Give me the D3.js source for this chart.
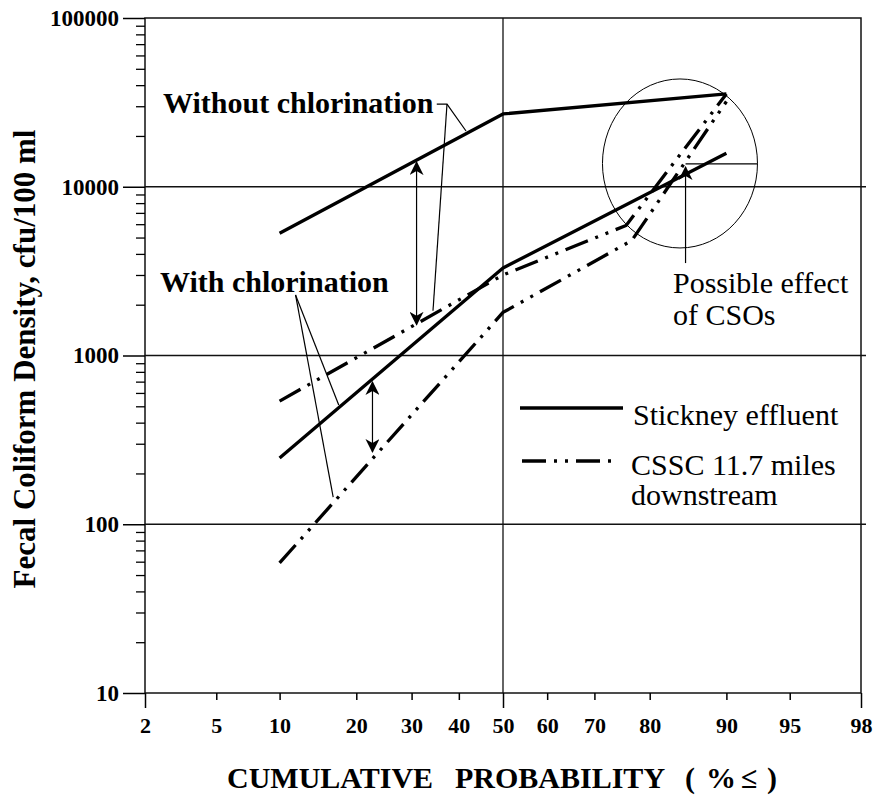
<!DOCTYPE html>
<html>
<head>
<meta charset="utf-8">
<script src="https://cdn.jsdelivr.net/npm/d3@7"></script>
<style>
  body { margin: 0; background: #fff; }
  svg { display: block; }
  text { font-family: "Liberation Serif", "Times New Roman", serif; fill: #000; }
</style>
</head>
<body>
<div id="chart"></div>
<script>
// tick labels
const xTicks = [2, 5, 10, 20, 30, 40, 50, 60, 70, 80, 90, 95, 98];
const yTicks = [10, 100, 1000, 10000, 100000];
const yGrid = [100, 1000, 10000];

// series: [cumulative probability %, fecal coliform cfu/100 ml]
const effluentNoChl = [[10, 5300], [50, 27000], [90, 35500]];
const effluentChl = [[10, 247], [50, 3300], [90, 15800]];
const csscNoChl = [[10, 537], [50, 3000], [76, 5900], [90, 35500]];
const csscChl = [[10, 59], [50, 1800], [77, 4800], [90, 32000]];

// annotations, in data units
const arrowNoChl = [[31, 14000], [31, 1520]];
const arrowChl = [[22.7, 697], [22.7, 268]];
const arrowCSO = [[85.25, 3530], [85.25, 13100]];
const csoTick = [[85.25, 13650], [92.8, 13650]];
const csoCircle = [84.5, 13740];
const leaderNoChlA = [[35.2, 30900], [37.4, 30900], [41.6, 21400]];
const leaderNoChlB = [[37.4, 30900], [34.4, 1840]];
const leaderChlA = [[11.7, 2285], [16.5, 145]];
const leaderChlB = [[11.7, 2285], [17.3, 509]];

// inverse normal cdf (Acklam) for the probability axis
function probit(p) {
    const a = [-3.969683028665376e+01, 2.209460984245205e+02, -2.759285104469687e+02, 1.383577518672690e+02, -3.066479806614716e+01, 2.506628277459239e+00];
    const b = [-5.447609879822406e+01, 1.615858368580409e+02, -1.556989798598866e+02, 6.680131188771972e+01, -1.328068155288572e+01];
    const c = [-7.784894002430293e-03, -3.223964580411365e-01, -2.400758277161838e+00, -2.549671180908264e+00, 4.374664141464968e+00, 2.938163982698783e+00];
    const d = [7.784695709041462e-03, 3.224671290700398e-01, 2.445134137142996e+00, 3.754408661907416e+00];
    const lo = 0.02425;
    let q, r;
    if (p < lo) {
        q = Math.sqrt(-2 * Math.log(p));
        return (((((c[0] * q + c[1]) * q + c[2]) * q + c[3]) * q + c[4]) * q + c[5]) /
            ((((d[0] * q + d[1]) * q + d[2]) * q + d[3]) * q + 1);
    }
    if (p > 1 - lo) return -probit(1 - p);
    q = p - 0.5; r = q * q;
    return (((((a[0] * r + a[1]) * r + a[2]) * r + a[3]) * r + a[4]) * r + a[5]) * q /
        (((((b[0] * r + b[1]) * r + b[2]) * r + b[3]) * r + b[4]) * r + 1);
}

const width = 873;
const height = 797;
const plotL = 145, plotR = 861, plotT = 18, plotB = 693;

const svg = d3.select("#chart").append("svg")
    .attr("width", width)
    .attr("height", height);

// scales
const x = d3.scaleLinear().domain([probit(0.02), probit(0.98)]).range([plotL, plotR]);
const px = p => x(probit(p / 100));
const y = d3.scaleLog().domain([10, 100000]).range([plotB, plotT]);

const defs = svg.append("defs");
defs.append("marker")
    .attr("id", "head")
    .attr("viewBox", "0 -7 14 14")
    .attr("refX", 13).attr("refY", 0)
    .attr("markerWidth", 14).attr("markerHeight", 14)
    .attr("markerUnits", "userSpaceOnUse")
    .attr("orient", "auto-start-reverse")
    .append("path")
    .attr("d", "M0,-7L14,0L0,7L4,0Z")
    .attr("fill", "#000");

// grid
svg.append("g").selectAll("line").data(yGrid).join("line")
    .attr("x1", plotL).attr("x2", plotR + 5)
    .attr("y1", d => y(d)).attr("y2", d => y(d))
    .attr("stroke", "#111").attr("stroke-width", 1.3);

svg.append("line")
    .attr("x1", px(50)).attr("x2", px(50))
    .attr("y1", plotT).attr("y2", plotB)
    .attr("stroke", "#111").attr("stroke-width", 1.3);

// frame
svg.append("rect")
    .attr("x", plotL).attr("y", plotT)
    .attr("width", plotR - plotL).attr("height", plotB - plotT)
    .attr("fill", "none").attr("stroke", "#111").attr("stroke-width", 1.5);

// y axis
const minor = [];
[10, 100, 1000, 10000].forEach(dec => { for (let k = 2; k < 10; k++) minor.push(dec * k); });

svg.append("g")
    .attr("transform", "translate(" + plotL + ",0)")
    .call(d3.axisLeft(y).tickValues(minor).tickSize(9).tickSizeOuter(0).tickFormat(""))
    .call(g => g.select(".domain").remove())
    .selectAll("line").attr("stroke-width", 1.3);

const yAxis = svg.append("g")
    .attr("transform", "translate(" + plotL + ",0)")
    .call(d3.axisLeft(y).tickValues(yTicks).tickSize(22).tickSizeOuter(0).tickPadding(4).tickFormat(d3.format("d")))
    .call(g => g.select(".domain").remove());
yAxis.selectAll("line").attr("stroke-width", 1.5);
yAxis.selectAll("text")
    .style("font-family", "'Liberation Serif', serif")
    .style("font-size", "23px")
    .style("font-weight", "bold");

// x axis
const xAxis = svg.append("g")
    .attr("transform", "translate(0," + plotB + ")")
    .call(d3.axisBottom(x)
        .tickValues(xTicks.map(p => probit(p / 100)))
        .tickFormat((d, i) => xTicks[i])
        .tickSize(7).tickSizeOuter(0))
    .call(g => g.select(".domain").remove());
xAxis.selectAll("line")
    .attr("stroke-width", 1.5)
    .attr("y2", (d, i) => [2, 50, 98].includes(xTicks[i]) ? 15 : 7);
xAxis.selectAll("text")
    .attr("y", 24)
    .style("font-family", "'Liberation Serif', serif")
    .style("font-size", "22px")
    .style("font-weight", "bold");

// axis titles
const xTitle = svg.append("text")
    .attr("y", 788)
    .style("font-size", "30px").style("font-weight", "bold");
[["CUMULATIVE", 227], ["PROBABILITY", 455], ["(", 685], ["%", 706], ["\u2264", 741], [")", 767]]
    .forEach(([t, xx]) => xTitle.append("tspan").attr("x", xx).text(t));

svg.append("text")
    .attr("transform", "translate(35,359) rotate(-90)")
    .attr("text-anchor", "middle")
    .style("font-size", "31px").style("font-weight", "bold")
    .text("Fecal Coliform Density, cfu/100 ml");

// lines
const line = d3.line().x(d => px(d[0])).y(d => y(d[1]));
const dashes = "24 8 3 8 3 8";

[effluentNoChl, effluentChl].forEach(s => {
    svg.append("path").attr("d", line(s))
        .attr("fill", "none").attr("stroke", "#000").attr("stroke-width", 3.3)
        .attr("stroke-linejoin", "round");
});
[csscNoChl, csscChl].forEach(s => {
    svg.append("path").attr("d", line(s))
        .attr("fill", "none").attr("stroke", "#000").attr("stroke-width", 3.3)
        .attr("stroke-dasharray", dashes);
});

// arrows and leaders
const thin = g => g.attr("fill", "none").attr("stroke", "#000").attr("stroke-width", 1.2);
[arrowNoChl, arrowChl].forEach(a => {
    svg.append("path").attr("d", line(a)).call(thin)
        .attr("marker-start", "url(#head)").attr("marker-end", "url(#head)");
});
svg.append("path").attr("d", line(arrowCSO)).call(thin).attr("marker-end", "url(#head)");
[csoTick, leaderNoChlA, leaderNoChlB, leaderChlA, leaderChlB].forEach(a => {
    svg.append("path").attr("d", line(a)).call(thin);
});

svg.append("ellipse")
    .attr("cx", px(csoCircle[0])).attr("cy", y(csoCircle[1]))
    .attr("rx", 77.5).attr("ry", 84.5)
    .attr("fill", "none").attr("stroke", "#000").attr("stroke-width", 1);

// labels
svg.append("text").attr("x", 163).attr("y", 113)
    .style("font-size", "30px").style("font-weight", "bold")
    .text("Without chlorination");
svg.append("text").attr("x", 160).attr("y", 292)
    .style("font-size", "30px").style("font-weight", "bold")
    .text("With chlorination");
svg.append("text").attr("x", 673).attr("y", 293)
    .style("font-size", "30px").text("Possible effect");
svg.append("text").attr("x", 673).attr("y", 325)
    .style("font-size", "30px").text("of CSOs");

// legend
const legend = svg.append("g");
legend.append("line").attr("x1", 520).attr("x2", 623).attr("y1", 408).attr("y2", 408)
    .attr("stroke", "#000").attr("stroke-width", 3.3);
legend.append("line").attr("x1", 522).attr("x2", 612).attr("y1", 461).attr("y2", 461)
    .attr("stroke", "#000").attr("stroke-width", 3.3).attr("stroke-dasharray", dashes);
legend.append("text").attr("x", 633).attr("y", 425)
    .style("font-size", "30px").text("Stickney effluent");
legend.append("text").attr("x", 631).attr("y", 475)
    .style("font-size", "30px").text("CSSC 11.7 miles");
legend.append("text").attr("x", 631).attr("y", 505)
    .style("font-size", "30px").text("downstream");
</script>
</body>
</html>
